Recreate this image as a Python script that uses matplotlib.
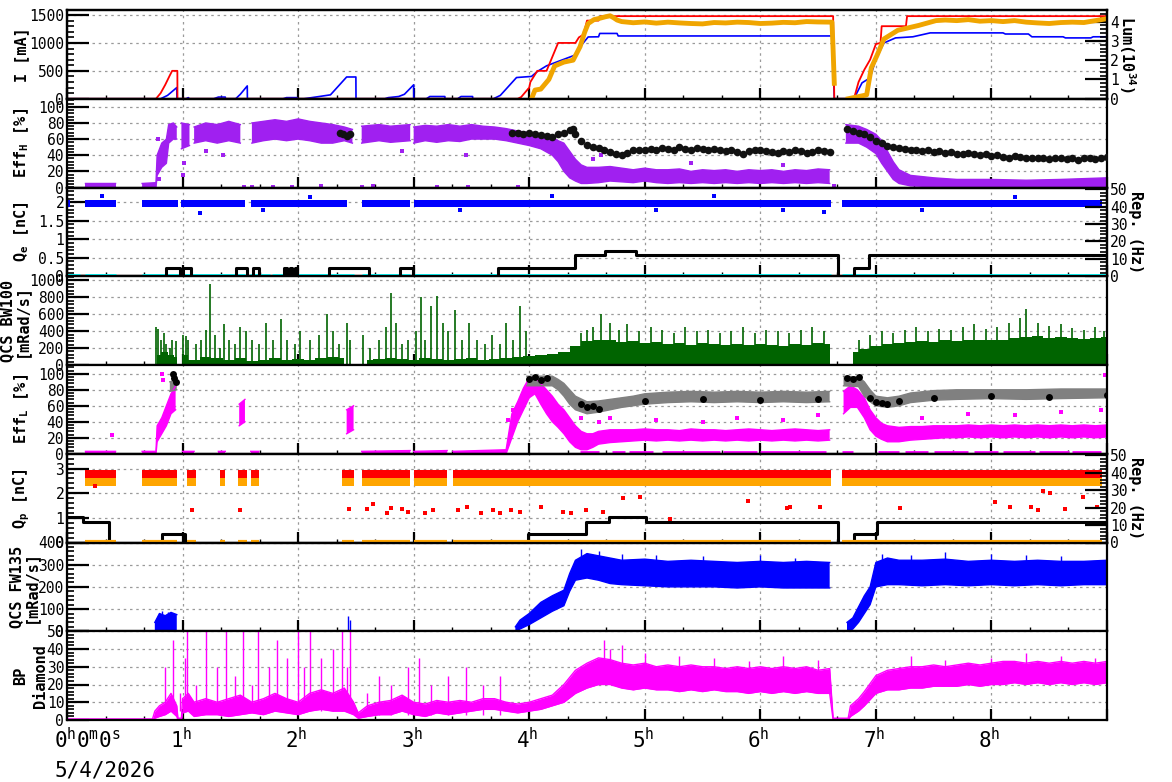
import numpy as np
import matplotlib.pyplot as plt
from matplotlib.ticker import MultipleLocator, AutoMinorLocator, FormatStrFormatter
from matplotlib.transforms import ScaledTranslation

nan = np.nan
plt.rcParams['font.family'] = 'DejaVu Sans Mono'
plt.rcParams['mathtext.default'] = 'regular'

# ---------------- data (time in hours) ----------------
# beam currents [mA]
I_RED_T = [0, 0.77, 0.81, 0.85, 0.89, 0.91, 0.955, 0.956, 3.90, 3.93, 4.0, 4.01, 4.07, 4.15, 4.20, 4.25,
           4.40, 4.43, 4.47, 4.5, 4.6, 4.62, 6.63, 6.64, 6.81, 6.85, 6.9, 6.95, 7.0, 7.04, 7.05, 7.26, 7.27, 9.0]
I_RED = [0, 0, 100, 250, 420, 500, 500, 0, 0, 30, 200, 300, 500, 500, 750, 1000,
         1000, 1100, 1150, 1400, 1400, 1480, 1480, 0, 0, 300, 520, 700, 980, 1000, 1300, 1300, 1480, 1480]
I_BLUE_T = [0, 0.81, 0.87, 0.95, 0.951, 1.03, 1.05, 1.06, 1.27, 1.31, 1.37, 1.371, 1.46, 1.50, 1.56, 1.561,
            1.87, 1.9, 1.99, 1.991, 2.05, 2.15, 2.28, 2.42, 2.5, 2.501, 2.75, 2.78, 2.87, 2.92, 3.0, 3.001,
            3.11, 3.14, 3.27, 3.271, 3.38, 3.41, 3.51, 3.511, 3.69, 3.75, 3.89, 4.02, 4.07, 4.15, 4.40, 4.46,
            4.51, 4.6, 4.61, 4.76, 4.77, 6.63, 6.631, 6.64, 6.81, 6.88, 6.95, 7.0, 7.07, 7.17, 7.32, 7.47,
            8.1, 8.12, 8.32, 8.35, 8.62, 8.64, 8.86, 8.88, 9.0]
I_BLUE = [0, 0, 60, 200, 0, 0, 20, 0, 0, 30, 30, 0, 0, 80, 230, 0,
          0, 20, 20, 0, 0, 30, 70, 390, 390, 0, 0, 20, 40, 80, 250, 0,
          0, 40, 40, 0, 0, 40, 40, 0, 0, 60, 380, 400, 488, 590, 785, 980,
          1107, 1110, 1170, 1170, 1125, 1125, 600, 0, 0, 285, 375, 710, 1000, 1090, 1110, 1180,
          1180, 1160, 1160, 1110, 1110, 1090, 1090, 1110, 1110]
# luminosity [1e34]
LUM_T = [4.02, 4.05, 4.1, 4.17, 4.22, 4.3, 4.38, 4.44, 4.48, 4.51, 4.56, 4.61, 4.66, 4.7, 4.73, 4.76, 4.8,
         4.9, 5.0, 5.1, 5.2, 5.3, 5.4, 5.5, 5.6, 5.7, 5.8, 5.9, 6.0, 6.1, 6.2, 6.3, 6.4, 6.5, 6.62, 6.63,
         6.64, 6.65, 6.76, 6.92, 6.96, 7.01, 7.07, 7.19, 7.37, 7.52, 7.6, 7.7, 7.8, 7.9, 8.0, 8.1, 8.2,
         8.3, 8.4, 8.5, 8.6, 8.7, 8.8, 8.9, 9.0]
LUM = [0, 0.45, 0.5, 1.0, 1.7, 1.9, 2.0, 2.7, 3.45, 3.9, 4.1, 4.17, 4.25, 4.3, 4.2, 4.08, 4.0,
       3.94, 3.98, 3.92, 3.97, 3.93, 3.9, 3.88, 3.95, 3.93, 3.97, 3.95, 3.9, 3.92, 3.96, 3.94, 4.0, 3.98, 3.97, 2.5,
       0.8, nan, 0, 0.2, 1.6, 2.25, 3.1, 3.55, 3.8, 4.05, 4.08, 4.05, 4.1, 4.02, 4.05, 4.0, 4.05,
       3.97, 3.93, 3.9, 3.95, 3.97, 3.95, 4.05, 4.15]

# Eff_H [%] : purple scatter band (t, low, high)
EFFH_PURPLE = [
    (0.16, 0, 5), (0.42, 0, 5), (0.43, nan, nan),
    (0.65, 0, 5), (0.77, 0, 6), (0.78, 15, 40), (0.82, 25, 55), (0.86, 30, 60), (0.88, 55, 78), (0.92, 60, 80),
    (0.95, 60, 75), (0.96, nan, nan),
    (0.99, 48, 80), (1.06, 52, 78), (1.07, nan, nan),
    (1.10, 55, 75), (1.2, 58, 80), (1.3, 55, 78), (1.4, 58, 82), (1.5, 55, 78), (1.56, nan, nan),
    (1.6, 55, 80), (1.7, 58, 82), (1.8, 60, 84), (1.9, 58, 82), (2.0, 60, 85), (2.1, 58, 82), (2.2, 55, 80),
    (2.3, 55, 78), (2.4, 58, 75), (2.47, 55, 72), (2.48, nan, nan),
    (2.55, 55, 76), (2.7, 58, 78), (2.8, 56, 76), (2.97, 58, 78), (2.98, nan, nan),
    (3.0, 55, 75), (3.1, 58, 77), (3.2, 56, 76), (3.3, 58, 78), (3.4, 57, 76), (3.5, 60, 78), (3.6, 60, 76),
    (3.7, 60, 75), (3.8, 58, 73), (3.9, 55, 70), (4.0, 52, 68), (4.1, 48, 66), (4.2, 40, 62), (4.25, 32, 58),
    (4.3, 20, 55), (4.35, 12, 45), (4.4, 8, 35), (4.45, 5, 28), (4.5, 5, 25), (4.6, 6, 25), (4.7, 8, 26),
    (4.8, 7, 24), (4.9, 6, 22), (5.0, 8, 24), (5.1, 6, 22), (5.2, 5, 22), (5.3, 6, 23), (5.4, 5, 20),
    (5.5, 6, 22), (5.6, 5, 21), (5.7, 6, 22), (5.8, 5, 20), (5.9, 6, 22), (6.0, 5, 21), (6.1, 6, 22),
    (6.2, 5, 20), (6.3, 6, 22), (6.4, 5, 21), (6.5, 6, 23), (6.6, 5, 22), (6.61, nan, nan),
    (6.74, 55, 78), (6.85, 55, 76), (6.92, 50, 72), (7.0, 42, 66), (7.05, 30, 58), (7.1, 20, 45),
    (7.15, 10, 32), (7.2, 5, 22), (7.3, 2, 15), (7.5, 1, 12), (7.7, 0, 10), (8.0, 0, 10), (8.3, 0, 9),
    (8.6, 0, 10), (9.0, 0, 12)]
EFFH_PURPLE_OUT_T = [0.79, 0.8, 1.0, 1.01, 1.2, 1.35, 1.53, 1.6, 1.78, 1.95, 2.2, 2.55, 2.65, 2.9, 3.2,
                     3.45, 3.47, 3.9, 4.55, 4.62, 5.4, 6.2, 6.64]
EFFH_PURPLE_OUT = [60, 10, 15, 30, 45, 40, 1, 1, 1, 1, 2, 1, 2, 45, 1, 40, 1, 1, 35, 40, 30, 28, 2]
EFFH_BLACK_T = [2.36, 2.39, 2.42, 2.45,
                3.85, 3.9, 3.95, 4.0, 4.05, 4.1, 4.15, 4.2, 4.25, 4.3, 4.35, 4.38, 4.4, 4.45, 4.5, 4.55,
                4.6, 4.65, 4.7, 4.75, 4.8, 4.85, 4.9, 4.95, 5.0, 5.05, 5.1, 5.15, 5.2, 5.25, 5.3, 5.35,
                5.4, 5.45, 5.5, 5.55, 5.6, 5.65, 5.7, 5.75, 5.8, 5.85, 5.9, 5.95, 6.0, 6.05, 6.1, 6.15,
                6.2, 6.25, 6.3, 6.35, 6.4, 6.45, 6.5, 6.55, 6.6,
                6.75, 6.8, 6.85, 6.9, 6.95, 7.0, 7.05, 7.1, 7.15, 7.2, 7.25, 7.3, 7.35, 7.4, 7.45, 7.5,
                7.55, 7.6, 7.65, 7.7, 7.75, 7.8, 7.85, 7.9, 7.95, 8.0, 8.05, 8.1, 8.15, 8.2, 8.25, 8.3,
                8.35, 8.4, 8.45, 8.5, 8.55, 8.6, 8.65, 8.7, 8.75, 8.8, 8.85, 8.9, 8.95, 9.0]
EFFH_BLACK = [68, 66, 64, 66,
              67, 68, 66, 67, 66, 65, 64, 63, 66, 68, 71, 72, 66, 58, 53, 50,
              49, 47, 44, 42, 40, 43, 46, 47, 46, 48, 47, 49, 48, 47, 50, 48,
              47, 49, 48, 46, 48, 47, 45, 46, 44, 42, 45, 47, 46, 45, 44, 43,
              45, 44, 46, 45, 43, 44, 46, 45, 44,
              72, 70, 68, 66, 62, 58, 55, 52, 50, 49, 48, 47, 46, 45, 46, 44,
              45, 43, 44, 42, 41, 43, 42, 40, 41, 39, 40, 38, 37, 39, 38, 36,
              37, 36, 37, 35, 36, 37, 35, 36, 34, 36, 37, 35, 37, 38]

# Q_e [nC] : beam-on segments, band limits; repetition rates [Hz]
QE_SEGS = [(0.0, 0.03), (0.16, 0.42), (0.65, 0.96), (0.99, 1.54), (1.59, 2.42), (2.55, 2.97), (3.0, 6.61),
           (6.71, 8.96)]
QE_LO, QE_HI = 1.87, 2.07
QE_OUT_T = [0.3, 1.15, 1.7, 2.1, 3.4, 4.2, 5.1, 5.6, 6.2, 6.55, 7.4, 8.2]
QE_OUT = [2.18, 1.72, 1.78, 2.15, 1.8, 2.17, 1.78, 2.16, 1.8, 1.75, 1.8, 2.14]
REPE_T = [0, 0.86, 0.98, 1.00, 1.07, 1.46, 1.56, 1.61, 1.66, 1.88, 1.90, 1.93, 1.95, 1.97, 1.99, 2.27,
          2.61, 2.88, 2.99, 3.73, 4.40, 4.66, 4.92, 6.67, 6.81, 6.94, 9.0]
REPE = [0, 5, 0, 5, 0, 5, 0, 5, 0, 5, 0, 5, 0, 5, 0, 5,
        0, 5, 0, 5, 12, 14.5, 12, 0, 5, 12, 12]
CYAN_SEGS = [(0.0, 0.11), (0.16, 0.42), (0.65, 1.54), (1.58, 1.76), (1.77, 2.48), (2.55, 2.97), (3.0, 6.61),
             (6.71, 9.0)]

# QCS BW100 [mRad/s] : envelope of dense spikes and isolated spikes
BW_ENV_T = [0.78, 0.85, 0.9, 0.95, 0.96, 1.0, 1.1, 1.2, 1.3, 1.4, 1.5, 1.6, 1.7, 1.8, 1.9, 2.0, 2.1, 2.2,
            2.3, 2.4, 2.5, 2.6, 2.7, 2.8, 2.9, 3.0, 3.1, 3.2, 3.3, 3.4, 3.5, 3.6, 3.7, 3.8, 3.9, 4.0, 4.1,
            4.2, 4.3, 4.4, 4.5, 4.6, 4.7, 4.8, 4.9, 5.0, 5.1, 5.2, 5.3, 5.4, 5.5, 5.6, 5.7, 5.8, 5.9, 6.0,
            6.1, 6.2, 6.3, 6.4, 6.5, 6.6, 6.7, 6.8, 6.9, 7.0, 7.1, 7.2, 7.3, 7.4, 7.5, 7.6, 7.7, 7.8, 7.9,
            8.0, 8.1, 8.2, 8.3, 8.4, 8.5, 8.6, 8.7, 8.8, 8.9, 9.0]
BW_ENV = [120, 150, 120, 100, nan, 120, 60, 100, 80, 60, 80, 50, 60, 80, 60, 70, 60, 80,
          90, 80, nan, 60, 70, 80, 70, 60, 80, 70, 60, 70, 80, 60, 70, 80, 90, 110, 120,
          130, 150, 220, 280, 300, 290, 270, 280, 260, 270, 250, 260, 240, 260, 250, 240, 250, 240, 250,
          240, 230, 250, 240, 260, 250, nan, 150, 190, 230, 250, 260, 270, 280, 270, 290, 280, 290, 300,
          290, 300, 320, 330, 340, 320, 330, 320, 310, 320, 330]
BW_SPK_T = [0.77, 0.79, 0.81, 0.84, 0.86, 0.89, 0.91, 0.94, 1.0, 1.03, 1.05, 1.12, 1.16, 1.2, 1.24, 1.28,
            1.32, 1.36, 1.4, 1.45, 1.5, 1.55, 1.6, 1.66, 1.72, 1.78, 1.85, 1.9, 1.97, 2.02, 2.1, 2.18,
            2.25, 2.3, 2.35, 2.42, 2.45, 2.56, 2.62, 2.7, 2.76, 2.8, 2.85, 2.9, 2.95, 3.02, 3.06, 3.1,
            3.15, 3.2, 3.25, 3.3, 3.36, 3.42, 3.48, 3.55, 3.62, 3.68, 3.75, 3.8, 3.86, 3.92, 3.97,
            4.45, 4.5, 4.55, 4.62, 4.7, 4.78, 4.85, 4.95, 5.05, 5.15, 5.25, 5.35, 5.45, 5.55, 5.65,
            5.75, 5.85, 5.95, 6.05, 6.15, 6.25, 6.35, 6.45, 6.55, 6.85, 6.95, 7.05, 7.15, 7.25, 7.35,
            7.45, 7.55, 7.65, 7.75, 7.85, 7.95, 8.05, 8.15, 8.25, 8.3, 8.4, 8.5, 8.6, 8.7, 8.8, 8.9, 8.97]
BW_SPK = [450, 430, 300, 380, 250, 200, 300, 280, 360, 340, 290, 250, 300, 420, 960, 350,
          200, 480, 300, 250, 450, 400, 300, 250, 500, 300, 550, 300, 250, 400, 300, 350,
          600, 400, 250, 500, 300, 350, 200, 300, 450, 850, 500, 250, 300, 400, 800, 300,
          700, 820, 500, 400, 650, 300, 500, 300, 250, 350, 250, 500, 300, 700, 400,
          380, 420, 450, 600, 500, 420, 480, 400, 450, 420, 380, 450, 400, 420, 380,
          400, 450, 380, 420, 400, 380, 420, 450, 400, 300, 350, 400, 380, 420, 450,
          400, 430, 420, 450, 480, 430, 450, 500, 560, 660, 500, 460, 480, 440, 420, 450, 400]

# Eff_L [%]
EFFL_MAG = [
    (0.16, 0, 3), (0.42, 0, 3), (0.43, nan, nan),
    (0.65, 0, 3), (0.77, 0, 3), (0.78, 15, 35), (0.82, 25, 45), (0.86, 35, 60), (0.9, 50, 75), (0.94, 55, 85),
    (0.95, nan, nan),
    (1.0, 0, 3), (1.1, 0, 3), (1.11, nan, nan), (1.31, 0, 3), (1.37, 0, 3), (1.38, nan, nan),
    (1.49, 35, 62), (1.54, 40, 68), (1.55, nan, nan), (1.59, 0, 3), (1.66, 0, 3), (1.67, nan, nan),
    (2.42, 25, 55), (2.48, 30, 60), (2.49, nan, nan), (2.55, 0, 3), (2.97, 0, 4), (2.98, nan, nan),
    (3.0, 0, 3), (3.29, 0, 4), (3.3, nan, nan),
    (3.34, 0, 3), (3.8, 0, 5), (3.85, 20, 50), (3.9, 40, 65), (3.95, 55, 82), (4.0, 70, 95), (4.05, 75, 96),
    (4.1, 62, 88), (4.15, 50, 80), (4.2, 40, 72), (4.25, 33, 62), (4.3, 25, 55), (4.35, 15, 45), (4.4, 8, 35),
    (4.45, 5, 28), (4.5, 5, 25), (4.55, 8, 25), (4.6, 12, 28), (4.7, 14, 30), (4.8, 15, 30), (4.9, 16, 30),
    (5.0, 17, 31), (5.1, 16, 30), (5.2, 17, 30), (5.3, 16, 29), (5.4, 17, 31), (5.5, 16, 30), (5.6, 17, 30),
    (5.7, 16, 29), (5.8, 17, 30), (5.9, 16, 31), (6.0, 17, 30), (6.1, 16, 29), (6.2, 17, 30), (6.3, 16, 31),
    (6.4, 17, 30), (6.5, 16, 29), (6.6, 17, 30), (6.61, nan, nan),
    (6.72, 50, 78), (6.78, 58, 85), (6.84, 58, 80), (6.9, 45, 70), (6.95, 30, 55), (7.0, 22, 45),
    (7.05, 18, 38), (7.1, 15, 35), (7.2, 15, 33), (7.3, 17, 34), (7.4, 18, 34), (7.5, 19, 35), (7.6, 20, 35),
    (7.7, 20, 35), (7.8, 21, 36), (7.9, 20, 35), (8.0, 21, 36), (8.1, 20, 35), (8.2, 21, 36), (8.3, 20, 35),
    (8.4, 21, 36), (8.5, 20, 35), (8.6, 21, 36), (8.7, 20, 35), (8.8, 21, 36), (8.9, 20, 35), (9.0, 21, 36)]
EFFL_ZERO_SEGS = [(4.44, 4.6), (4.72, 4.83), (4.86, 5.07), (5.15, 5.65), (5.68, 5.97), (6.0, 6.57),
                  (6.71, 6.8), (7.02, 7.2), (7.25, 7.45), (7.5, 7.8), (7.85, 8.06), (8.1, 8.38), (8.41, 8.67),
                  (8.7, 8.95)]
EFFL_MAG_OUT_T = [0.39, 0.82, 0.83, 3.82, 3.86, 4.45, 4.6, 4.7, 5.1, 5.5, 5.8, 6.2, 6.5, 7.4, 7.8, 8.2,
                  8.6, 8.95, 8.98]
EFFL_MAG_OUT = [23, 100, 92, 42, 55, 45, 40, 45, 42, 40, 45, 42, 48, 45, 50, 48, 52, 55, 98]
EFFL_GRAY = [
    (0.89, 78, 90), (0.95, 80, 92), (0.96, nan, nan),
    (3.98, 85, 97), (4.2, 85, 97), (4.25, 80, 93), (4.3, 72, 88), (4.35, 62, 80), (4.4, 55, 72), (4.5, 50, 65),
    (4.6, 52, 66), (4.7, 55, 68), (4.8, 58, 70), (4.9, 60, 72), (5.0, 62, 75), (5.2, 64, 77), (5.4, 65, 78),
    (5.6, 64, 77), (5.8, 65, 78), (6.0, 64, 77), (6.2, 65, 78), (6.4, 64, 77), (6.6, 65, 78), (6.61, nan, nan),
    (6.72, 85, 97), (6.85, 84, 96), (6.9, 72, 90), (6.95, 65, 80), (7.0, 60, 72), (7.1, 58, 70), (7.2, 60, 72),
    (7.3, 64, 76), (7.5, 67, 79), (7.7, 68, 80), (8.0, 69, 80), (8.3, 68, 80), (8.6, 69, 81), (9.0, 70, 81)]
EFFL_BLACK_T = [0.92, 0.93, 0.94, 4.0, 4.05, 4.1, 4.15, 4.45, 4.5, 4.55, 4.6, 5.0, 5.5, 6.0, 6.5,
                6.75, 6.8, 6.85, 6.95, 7.0, 7.05, 7.1, 7.2, 7.5, 8.0, 8.5, 9.0]
EFFL_BLACK = [100, 95, 90, 94, 96, 92, 95, 62, 58, 60, 56, 66, 68, 67, 68,
              95, 93, 96, 70, 65, 63, 62, 66, 70, 72, 71, 73]

# Q_p [nC]
QP_SEGS = [(0.16, 0.42), (0.65, 0.95), (1.04, 1.12), (1.32, 1.37), (1.48, 1.56), (1.59, 1.66), (2.38, 2.48),
           (2.55, 2.97), (3.0, 3.29), (3.34, 6.61), (6.71, 8.96)]
QP_RED_LO, QP_RED_HI = 2.62, 2.95
QP_ORG_LO, QP_ORG_HI = 2.3, 2.6
QP_RED_OUT_T = [0.24, 1.08, 1.5, 2.44, 2.6, 2.65, 2.77, 2.8, 2.9, 2.95, 3.1, 3.17, 3.38, 3.46, 3.58, 3.69,
                3.75, 3.84, 3.92, 4.1, 4.29, 4.36, 4.49, 4.64, 4.81, 4.96, 5.22, 5.89, 6.23, 6.26, 6.52,
                7.21, 8.03, 8.16, 8.34, 8.4, 8.45, 8.51, 8.64, 8.79, 8.91]
QP_RED_OUT = [2.28, 1.3, 1.3, 1.35, 1.35, 1.55, 1.2, 1.4, 1.35, 1.25, 1.2, 1.3, 1.3, 1.45, 1.2, 1.3,
              1.2, 1.3, 1.25, 1.45, 1.25, 1.2, 1.3, 1.25, 1.8, 1.85, 0.95, 1.7, 1.4, 1.45, 1.45,
              1.4, 1.65, 1.45, 1.45, 1.3, 2.1, 2.0, 1.35, 1.85, 1.45]
REPP_T = [0, 0.14, 0.36, 0.82, 1.02, 3.99, 4.49, 4.69, 5.01, 6.67, 6.81, 7.01, 9.0]
REPP = [14.5, 12, 0, 5, 0, 5, 12, 14.5, 12, 0, 5, 12, 12]

# QCS FW135 [mRad/s]
FW_BAND = [
    (0.76, 0, 40), (0.8, 0, 80), (0.85, 0, 70), (0.9, 0, 85), (0.95, 0, 75), (0.96, nan, nan),
    (3.88, 0, 20), (3.92, 10, 50), (4.0, 30, 80), (4.1, 60, 130), (4.2, 90, 160), (4.3, 115, 185),
    (4.35, 180, 260), (4.4, 230, 320), (4.5, 240, 350), (4.6, 230, 340), (4.7, 215, 330), (4.8, 210, 320),
    (5.0, 205, 325), (5.2, 200, 315), (5.4, 200, 320), (5.6, 200, 315), (5.8, 195, 310), (6.0, 200, 315),
    (6.2, 195, 310), (6.4, 195, 315), (6.6, 195, 310), (6.61, nan, nan),
    (6.75, 0, 40), (6.8, 10, 60), (6.85, 40, 110), (6.9, 80, 160), (6.95, 120, 200), (7.0, 200, 310),
    (7.1, 210, 330), (7.2, 210, 320), (7.4, 205, 320), (7.6, 210, 325), (7.8, 205, 315), (8.0, 210, 320),
    (8.2, 205, 315), (8.4, 210, 320), (8.6, 205, 315), (8.8, 210, 315), (9.0, 210, 320)]
FW_SPK_T = [0.82, 0.87, 2.43, 2.45, 4.45, 4.6, 4.8, 5.1, 5.5, 6.0, 6.3, 7.05, 7.3, 7.6, 8.0, 8.3, 8.6]
FW_SPK_BASE = [0, 0, 0, 0, 300, 300, 300, 300, 300, 300, 300, 300, 300, 300, 300, 300, 300]
FW_SPK = [90, 85, 70, 50, 370, 360, 350, 345, 340, 345, 330, 350, 345, 355, 350, 345, 340]

# BP Diamond
BP_BAND = [
    (0.0, 0, 0.6), (0.74, 0, 0.6), (0.76, 1, 5), (0.8, 2, 8), (0.85, 3, 10), (0.9, 5, 15), (0.95, 2, 8),
    (0.96, 0, 1), (0.99, 0, 1), (1.0, 4, 12), (1.05, 5, 15), (1.1, 2, 10), (1.2, 3, 12), (1.3, 3, 10),
    (1.4, 2, 12), (1.5, 3, 14), (1.6, 4, 10), (1.7, 3, 12), (1.8, 5, 15), (1.9, 4, 12), (2.0, 3, 10),
    (2.1, 5, 15), (2.2, 6, 17), (2.3, 5, 15), (2.4, 5, 18), (2.48, 3, 10), (2.52, 1, 4), (2.6, 2, 8),
    (2.7, 3, 10), (2.8, 3, 11), (2.9, 5, 14), (3.0, 3, 10), (3.1, 2, 9), (3.2, 4, 11), (3.3, 3, 10),
    (3.4, 4, 11), (3.5, 5, 10), (3.6, 6, 12), (3.7, 6, 12), (3.8, 5, 10), (3.9, 4, 9), (4.0, 5, 10),
    (4.1, 6, 12), (4.2, 8, 14), (4.3, 10, 20), (4.4, 15, 28), (4.5, 18, 32), (4.6, 20, 35), (4.7, 20, 34),
    (4.8, 18, 32), (4.9, 17, 31), (5.0, 18, 32), (5.1, 17, 30), (5.2, 17, 31), (5.3, 16, 30), (5.4, 17, 31),
    (5.5, 16, 30), (5.6, 17, 30), (5.7, 16, 29), (5.8, 16, 30), (5.9, 15, 29), (6.0, 16, 30), (6.1, 15, 29),
    (6.2, 16, 30), (6.3, 15, 29), (6.4, 16, 30), (6.5, 15, 28), (6.6, 15, 29), (6.63, 0, 1), (6.76, 0, 1),
    (6.78, 2, 8), (6.85, 5, 12), (6.9, 8, 16), (7.0, 15, 25), (7.1, 17, 28), (7.2, 17, 29), (7.3, 18, 30),
    (7.4, 18, 30), (7.5, 19, 31), (7.6, 19, 30), (7.7, 19, 31), (7.8, 20, 32), (7.9, 19, 31), (8.0, 20, 32),
    (8.1, 20, 33), (8.2, 21, 33), (8.3, 20, 32), (8.4, 21, 33), (8.5, 20, 32), (8.6, 21, 33), (8.7, 20, 32),
    (8.8, 21, 33), (8.9, 20, 32), (9.0, 21, 33)]
BP_SPK_T = [0.85, 0.92, 0.98, 1.02, 1.04, 1.12, 1.2, 1.3, 1.38, 1.45, 1.52, 1.6, 1.65, 1.75, 1.82, 1.9,
            2.0, 2.05, 2.1, 2.2, 2.3, 2.38, 2.42, 2.45, 2.6, 2.7, 2.8, 2.95, 3.05, 3.15, 3.3, 3.45, 3.6,
            3.75, 4.65, 4.7, 4.8, 5.0, 5.3, 5.6, 5.9, 6.2, 6.5, 7.3, 7.6, 8.0, 8.3, 8.6, 8.9]
BP_SPK_BASE = [5, 5, 5, 5, 5, 5, 5, 5, 5, 5, 5, 5, 5, 5, 5, 5,
               5, 5, 5, 5, 5, 5, 5, 5, 3, 3, 3, 3, 3, 3, 3, 3, 3,
               3, 25, 25, 25, 25, 25, 25, 25, 25, 25, 25, 25, 25, 25, 25, 25]
BP_SPK = [30, 45, 15, 35, 50, 20, 50, 30, 50, 25, 50, 20, 50, 30, 45, 35,
          50, 30, 50, 35, 40, 50, 30, 50, 15, 25, 20, 30, 35, 20, 25, 30, 20,
          25, 45, 40, 42, 38, 36, 35, 33, 36, 34, 36, 34, 35, 38, 36, 35]

X_LABELS = ['$0^h0^m0^s$', '$1^h$', '$2^h$', '$3^h$', '$4^h$', '$5^h$', '$6^h$', '$7^h$', '$8^h$', '']
DATE = '5/4/2026'

PURPLE, MAGENTA, GREEN = '#a020f0', '#ff00ff', '#006400'


def cols(rows):
    a = np.array(rows, dtype=float)
    return a[:, 0], a[:, 1], a[:, 2]


def style(ax, ylim, major):
    ax.set_xlim(0, 9)
    ax.set_ylim(*ylim)
    ax.set_axisbelow(True)
    ax.xaxis.set_major_locator(MultipleLocator(1))
    ax.xaxis.set_minor_locator(MultipleLocator(1 / 3))
    ax.yaxis.set_major_locator(MultipleLocator(major))
    ax.yaxis.set_minor_locator(AutoMinorLocator(5))
    ax.yaxis.set_major_formatter(FormatStrFormatter('%g'))
    ax.tick_params(axis='y', which='major', direction='in', length=16, width=1.6, labelsize=10.5, pad=2,
                   right=False)
    ax.tick_params(axis='y', which='minor', direction='in', length=5, width=1.2, right=False)
    ax.tick_params(axis='x', which='major', direction='in', length=8, width=1.6, top=False, labelbottom=False)
    ax.tick_params(axis='x', which='minor', direction='in', length=3, width=1.0, top=False)
    ax.grid(True, which='major', ls=(0, (2, 3)), color='#9a9a9a', lw=0.9)
    for s in ax.spines.values():
        s.set_linewidth(1.6)


def twin(ax, ylim, major, label, xlab):
    ax2 = ax.twinx()
    ax2.set_ylim(*ylim)
    ax2.yaxis.set_major_locator(MultipleLocator(major))
    ax2.yaxis.set_minor_locator(AutoMinorLocator(5))
    ax2.yaxis.set_major_formatter(FormatStrFormatter('%g'))
    ax2.tick_params(axis='y', which='major', direction='in', length=16, width=1.6, labelsize=10.5, pad=2)
    ax2.tick_params(axis='y', which='minor', direction='in', length=5, width=1.2)
    ax2.set_ylabel(label, rotation=270, va='center', fontsize=11, fontweight='bold')
    ax2.yaxis.set_label_coords((xlab - 67) / 1040, 0.5)
    for s in ax2.spines.values():
        s.set_linewidth(1.6)
    return ax2


def ylab(ax, text):
    ax.set_ylabel(text, va='center', fontsize=11, fontweight='bold')
    ax.yaxis.set_label_coords(-0.0433, 0.5)


def ylab2(i, line1, line2, x1, x2):
    yc = 1 - (top + (i + 0.5) * ph) / 782
    for txt, x in ((line1, x1), (line2, x2)):
        fig.text(x / 1172, yc, txt, rotation=90, ha='center', va='center', fontsize=11, fontweight='bold')


def band(ax, rows, color):
    t, lo, hi = cols(rows)
    ax.fill_between(t, lo, hi, color=color, lw=0)
    ax.plot(t, lo, color=color, lw=1)
    ax.plot(t, hi, color=color, lw=1)


fig = plt.figure(figsize=(11.72, 7.82), dpi=100)
top, bottom = 10, 720
ph = (bottom - top) / 8
axes = []
for i in range(8):
    y1 = top + i * ph
    axes.append(fig.add_axes([67 / 1172, 1 - (y1 + ph) / 782, 1040 / 1172, ph / 782]))

# 1: currents + luminosity
ax = axes[0]
style(ax, (0, 1590), 500)
ax.plot(I_BLUE_T, I_BLUE, color='blue', lw=1.2)
ax.plot(I_RED_T, I_RED, color='red', lw=1.3)
ylab(ax, 'I [mA]')
ax2 = twin(ax, (0, 4.6), 1, 'Lum(10$^{34}$)', 1127)
ax2.plot(LUM_T, LUM, color='#f0a500', lw=3.5)

# 2: Eff_H
ax = axes[1]
style(ax, (0, 110), 20)
band(ax, EFFH_PURPLE, PURPLE)
ax.scatter(EFFH_PURPLE_OUT_T, EFFH_PURPLE_OUT, s=8, marker='s', color=PURPLE, lw=0)
ax.scatter(EFFH_BLACK_T, EFFH_BLACK, s=30, color='#111111', lw=0, zorder=3)
ylab(ax, 'Eff$_H$ [%]')

# 3: Q_e
ax = axes[2]
style(ax, (0, 2.4), 0.5)
for a, b in QE_SEGS:
    ax.fill_between([a, b], QE_LO, QE_HI, color='blue', lw=0)
ax.scatter(QE_OUT_T, QE_OUT, s=8, marker='s', color='blue', lw=0)
ylab(ax, 'Q$_e$ [nC]')
ax2 = twin(ax, (0, 51), 10, 'Rep. (Hz)', 1136)
for a, b in CYAN_SEGS:
    ax2.plot([a, b], [0.3, 0.3], color='#00ffff', lw=3.5, solid_capstyle='butt')
ax2.plot(REPE_T, REPE, drawstyle='steps-post', color='black', lw=2.2)

# 4: QCS BW100
ax = axes[3]
style(ax, (0, 1050), 200)
ax.fill_between(BW_ENV_T, 0, BW_ENV, step='mid', color=GREEN, lw=0)
ax.vlines(BW_SPK_T, 0, BW_SPK, color=GREEN, lw=1.2)
ylab2(3, 'QCS BW100', '[mRad/s]', 8, 22)

# 5: Eff_L
ax = axes[4]
style(ax, (0, 111), 20)
band(ax, EFFL_MAG, MAGENTA)
for a, b in EFFL_ZERO_SEGS:
    ax.plot([a, b], [0.5, 0.5], color=MAGENTA, lw=3.5, solid_capstyle='butt')
ax.scatter(EFFL_MAG_OUT_T, EFFL_MAG_OUT, s=12, marker='s', color=MAGENTA, lw=0)
band(ax, EFFL_GRAY, '#808080')
ax.scatter(EFFL_BLACK_T, EFFL_BLACK, s=25, color='black', lw=0, zorder=3)
ylab(ax, 'Eff$_L$ [%]')

# 6: Q_p
ax = axes[5]
style(ax, (0, 3.6), 1)
for a, b in QP_SEGS:
    ax.fill_between([a, b], QP_ORG_LO, QP_ORG_HI, color='orange', lw=0)
    ax.fill_between([a, b], QP_RED_LO, QP_RED_HI, color='red', lw=0)
ax.scatter(QP_RED_OUT_T, QP_RED_OUT, s=8, marker='s', color='red', lw=0)
ylab(ax, 'Q$_p$ [nC]')
ax2 = twin(ax, (0, 51), 10, 'Rep. (Hz)', 1136)
ax2.plot(REPP_T, REPP, drawstyle='steps-post', color='black', lw=2.2)
for a, b in QP_SEGS:
    ax2.plot([a, b], [0.4, 0.4], color='orange', lw=3, solid_capstyle='butt')

# 7: QCS FW135
ax = axes[6]
style(ax, (0, 400), 100)
band(ax, FW_BAND, 'blue')
ax.vlines(FW_SPK_T, FW_SPK_BASE, FW_SPK, color='blue', lw=1.0)
ylab2(6, 'QCS FW135', '[mRad/s]', 17, 31)

# 8: BP Diamond
ax = axes[7]
style(ax, (0, 50), 10)
band(ax, BP_BAND, MAGENTA)
ax.vlines(BP_SPK_T, BP_SPK_BASE, BP_SPK, color=MAGENTA, lw=1.0)
ylab2(7, 'BP', 'Diamond', 21, 40)

ax.set_xticks(range(10))
ax.set_xticklabels(X_LABELS)
ax.tick_params(axis='x', labelbottom=True, labelsize=15, pad=5)
for lab in ax.get_xticklabels():
    lab.set_ha('left')
    lab.set_transform(lab.get_transform() + ScaledTranslation(-0.13, 0, fig.dpi_scale_trans))

fig.text(54 / 1172, 1 - 770 / 782, DATE, fontsize=15, va='center', ha='left')

fig.savefig('out.png', dpi=100)
